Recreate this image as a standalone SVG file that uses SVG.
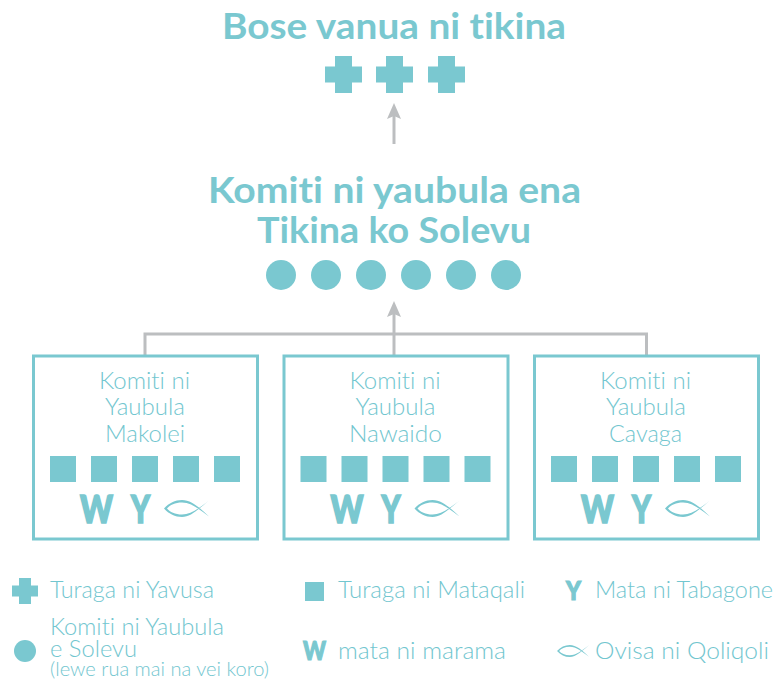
<svg xmlns="http://www.w3.org/2000/svg" width="782" height="679" viewBox="0 0 782 679">
<style>
text{font-family:"Lato","Liberation Sans",sans-serif;fill:#7AC8D0;font-variant-ligatures:none}
.h{font-size:36px;font-weight:700}
.t{font-size:24px;font-weight:300;fill:#72C6CF}
.s{font-size:20px;font-weight:300;fill:#72C6CF}
.g{font-weight:900;stroke:#7AC8D0;stroke-width:1.6}
.f{fill:#7AC8D0}
.box{fill:none;stroke:#7AC8D0;stroke-width:3}
.c{fill:none;stroke:#BCBEC0;stroke-width:3}
</style>
<defs>
<path id="cross" d="M10 0h17v10.500h10v16h-10v10.500h-17v-10.500h-10v-16h10z"/>
<path id="fish" d="M0 8.500C5 3 11 0 18 0C27 0 35 7 45 16.500C35 9 27 2.500 18 2.500C11 2.500 6 5 3 8.500C6 12 11 14.500 18 14.500C27 14.500 35 8 45 .5C35 8.500 27 17 18 17C11 17 5 14 0 8.500Z"/>
<g id="sq"><rect x="0" width="26" height="26"/><rect x="41" width="26" height="26"/><rect x="82" width="26" height="26"/><rect x="123" width="26" height="26"/><rect x="164" width="26" height="26"/></g>
</defs>

<g id="connectors">
<path class="c" d="M394 144V114"/>
<path class="c" d="M394 355V312"/>
<path class="c" d="M145 355V334H646.500V355"/>
<path d="M394 103L387 119L394 116L401 119Z" fill="#BCBEC0"/>
<path d="M394 301L387 317L394 314L401 317Z" fill="#BCBEC0"/>
</g>

<g id="bose-vanua">
<text class="h" x="222" y="38.500" textLength="344" lengthAdjust="spacingAndGlyphs">Bose vanua ni tikina</text>
<use href="#cross" x="325" y="56" class="f"/><use href="#cross" x="376" y="56" class="f"/><use href="#cross" x="428" y="56" class="f"/>
</g>

<g id="komiti-tikina">
<text class="h" x="208" y="202.500" textLength="373" lengthAdjust="spacingAndGlyphs">Komiti ni yaubula ena</text>
<text class="h" x="257" y="242.500" textLength="274" lengthAdjust="spacingAndGlyphs">Tikina ko Solevu</text>
<g class="f"><circle cx="281" cy="275" r="15"/><circle cx="326" cy="275" r="15"/><circle cx="371" cy="275" r="15"/><circle cx="416" cy="275" r="15"/><circle cx="461" cy="275" r="15"/><circle cx="506" cy="275" r="15"/></g>
</g>

<g id="makolei">
<rect class="box" x="33.500" y="356" width="224" height="183"/>
<text class="t" x="99" y="389" textLength="91" lengthAdjust="spacingAndGlyphs">Komiti ni</text>
<text class="t" x="105" y="415" textLength="80" lengthAdjust="spacingAndGlyphs">Yaubula</text>
<text class="t" x="105" y="442" textLength="80" lengthAdjust="spacingAndGlyphs">Makolei</text>
<use href="#sq" x="50" y="456" class="f"/>
<text class="g" x="80" y="523" font-size="37" textLength="33" lengthAdjust="spacingAndGlyphs">W</text>
<text class="g" x="131" y="523" font-size="37" textLength="19" lengthAdjust="spacingAndGlyphs">Y</text>
<use href="#fish" x="164" y="500" class="f"/>
</g>

<g id="nawaido">
<rect class="box" x="284" y="356" width="224" height="183"/>
<text class="t" x="349.500" y="389" textLength="91" lengthAdjust="spacingAndGlyphs">Komiti ni</text>
<text class="t" x="355.500" y="415" textLength="80" lengthAdjust="spacingAndGlyphs">Yaubula</text>
<text class="t" x="349" y="442" textLength="93" lengthAdjust="spacingAndGlyphs">Nawaido</text>
<use href="#sq" x="300.500" y="456" class="f"/>
<text class="g" x="330.500" y="523" font-size="37" textLength="33" lengthAdjust="spacingAndGlyphs">W</text>
<text class="g" x="381.500" y="523" font-size="37" textLength="19" lengthAdjust="spacingAndGlyphs">Y</text>
<use href="#fish" x="414.500" y="500" class="f"/>
</g>

<g id="cavaga">
<rect class="box" x="534.500" y="356" width="224" height="183"/>
<text class="t" x="600" y="389" textLength="91" lengthAdjust="spacingAndGlyphs">Komiti ni</text>
<text class="t" x="606" y="415" textLength="80" lengthAdjust="spacingAndGlyphs">Yaubula</text>
<text class="t" x="609" y="442" textLength="73" lengthAdjust="spacingAndGlyphs">Cavaga</text>
<use href="#sq" x="551" y="456" class="f"/>
<text class="g" x="581" y="523" font-size="37" textLength="33" lengthAdjust="spacingAndGlyphs">W</text>
<text class="g" x="632" y="523" font-size="37" textLength="19" lengthAdjust="spacingAndGlyphs">Y</text>
<use href="#fish" x="665" y="500" class="f"/>
</g>

<g id="legend">
<path class="f" d="M19 578h12v7.500h7v11h-7v7.500h-12v-7.500h-7v-11h7z"/>
<text class="t" x="50" y="598" textLength="164" lengthAdjust="spacingAndGlyphs">Turaga ni Yavusa</text>
<rect class="f" x="305" y="582" width="19" height="19"/>
<text class="t" x="338" y="598" textLength="187" lengthAdjust="spacingAndGlyphs">Turaga ni Mataqali</text>
<text class="g" x="566" y="600" font-size="27" textLength="15" lengthAdjust="spacingAndGlyphs" style="stroke-width:1.2">Y</text>
<text class="t" x="595" y="598" textLength="178" lengthAdjust="spacingAndGlyphs">Mata ni Tabagone</text>
<circle class="f" cx="25" cy="651" r="11"/>
<text class="t" x="50" y="635" textLength="174" lengthAdjust="spacingAndGlyphs">Komiti ni Yaubula</text>
<text class="t" x="50" y="657" textLength="87" lengthAdjust="spacingAndGlyphs">e Solevu</text>
<text class="s" x="50" y="676" textLength="219" lengthAdjust="spacingAndGlyphs">(lewe rua mai na vei koro)</text>
<text class="g" x="303" y="660" font-size="27" textLength="23" lengthAdjust="spacingAndGlyphs" style="stroke-width:1.2">W</text>
<text class="t" x="338" y="659" textLength="168" lengthAdjust="spacingAndGlyphs">mata ni marama</text>
<use href="#fish" transform="translate(557 645) scale(.71)" class="f"/>
<text class="t" x="595" y="659" textLength="174" lengthAdjust="spacingAndGlyphs">Ovisa ni Qoliqoli</text>
</g>
</svg>
